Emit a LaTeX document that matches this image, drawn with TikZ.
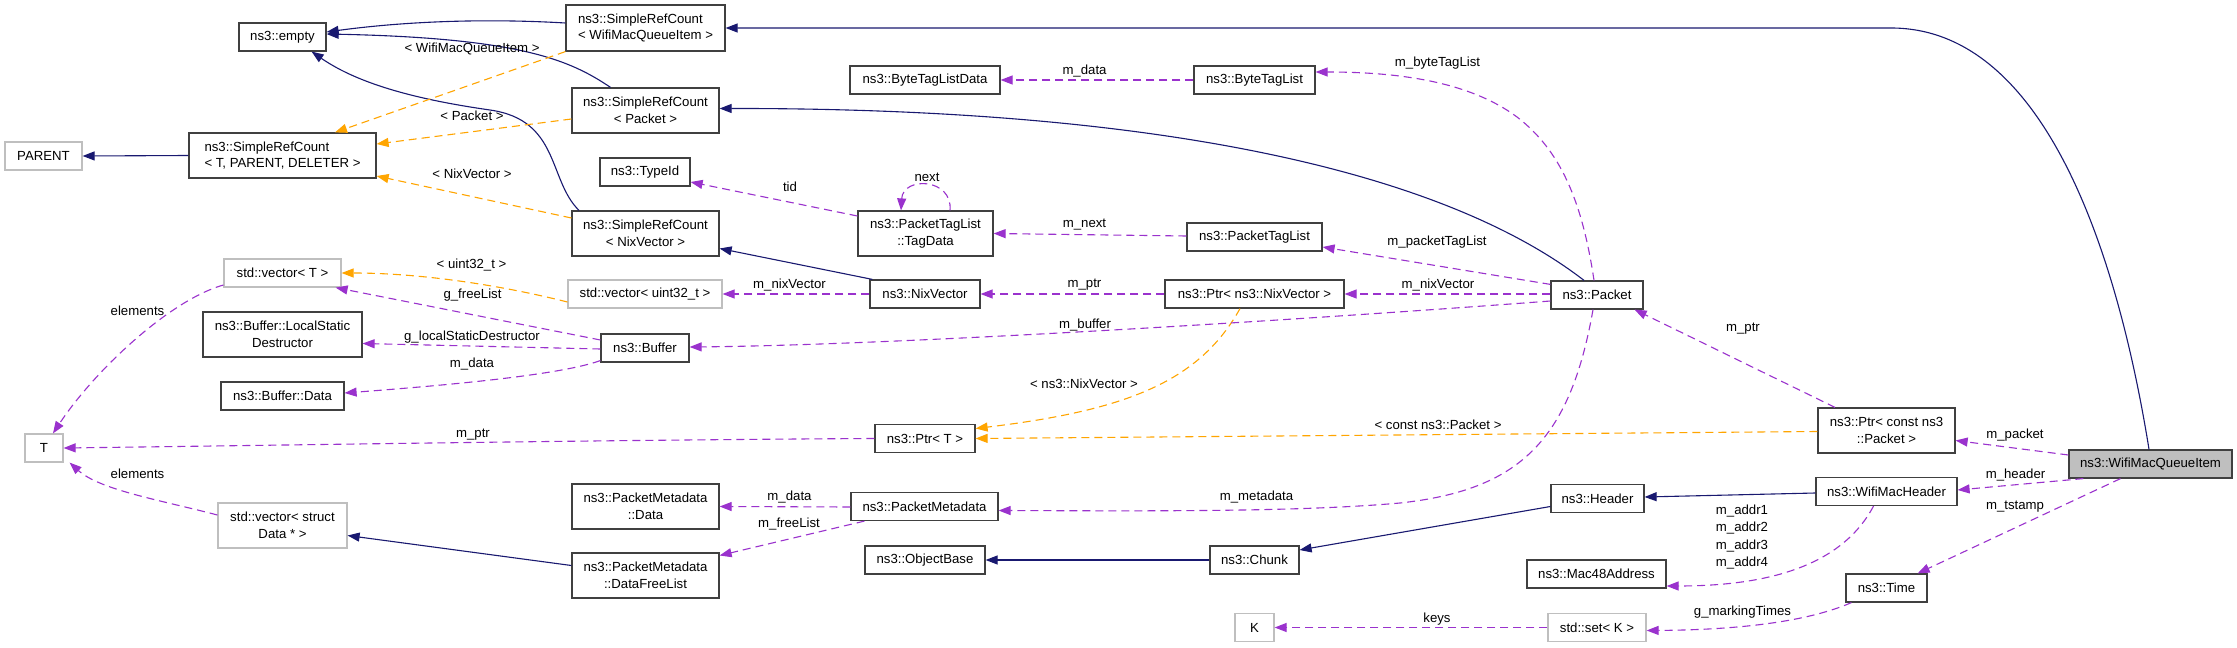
\documentclass[tikz,border=0pt]{standalone}
\usepackage{fontspec}
\setmainfont{Liberation Sans}
\usetikzlibrary{arrows.meta,calc}
\definecolor{inh}{HTML}{191970}
\definecolor{usec}{HTML}{9A32CD}
\definecolor{tplc}{HTML}{FFA500}
\definecolor{nodegray}{HTML}{BFBFBF}
\definecolor{bordr}{HTML}{404040}
\newlength\twolwa
\newlength\twolwb
\newcommand\twol[2]{\settowidth\twolwa{#1}\settowidth\twolwb{#2}\ifdim\twolwa<\twolwb\makebox[\twolwb][l]{#1}\else #1\fi\\#2}
\begin{document}
\begin{tikzpicture}[x=1bp,y=-1bp,
  every node/.style={font=\fontsize{13.2bp}{16.6bp}\selectfont, inner sep=0pt},
  sz/.style 2 args={minimum width=#1bp, minimum height=#2bp},
  cls/.style={draw=bordr, fill=white, line width=1.2bp, align=center},
  ext/.style={draw=nodegray, fill=white, line width=1.2bp, align=center},
  mainc/.style={draw=bordr, fill=nodegray, line width=1.2bp, align=center},
  tip/.style={-{Triangle[length=12bp,width=9bp]}},
  inhedge/.style={draw=inh, line width=1.1bp, tip},
  useedge/.style={draw=usec, line width=1.1bp, dash pattern=on 8bp off 5bp, tip},
  tpledge/.style={draw=tplc, line width=1.1bp, dash pattern=on 8bp off 5bp, tip},
  lbl/.style={align=center}]
\useasboundingbox[fill=white] (0,0) rectangle (2237,648);

% ---------- nodes ----------
\node[cls, sz={87}{28}] (empty) at (282.5,37) {ns3::empty};
\node[cls, sz={159}{46}] (srcW) at (645.5,28) {\twol{ns3::SimpleRefCount}{< WifiMacQueueItem >}};
\node[cls, sz={147}{45}] (srcP) at (645.5,110.5) {\twol{ns3::SimpleRefCount}{< Packet >}};
\node[ext, sz={77}{28}] (parent) at (43.5,156) {PARENT};
\node[cls, sz={187}{45}] (srcT) at (282.5,155.5) {\twol{ns3::SimpleRefCount}{< T, PARENT, DELETER >}};
\node[cls, sz={90}{28}] (typeid) at (645,172) {ns3::TypeId};
\node[cls, sz={147}{45}] (srcN) at (645.5,233.5) {\twol{ns3::SimpleRefCount}{< NixVector >}};
\node[ext, sz={117}{28}] (vecT) at (282.5,273) {std::vector< T >};
\node[ext, sz={154}{28}] (vecU) at (645,294) {std::vector< uint32\_t >};
\node[cls, sz={159}{45}] (lsd) at (282.5,334.5) {\twol{ns3::Buffer::LocalStatic}{Destructor}};
\node[cls, sz={88}{28}] (buffer) at (645,348) {ns3::Buffer};
\node[cls, sz={123}{28}] (bdata) at (282.5,396) {ns3::Buffer::Data};
\node[ext, sz={38}{28}] (T) at (44,448) {T};
\node[ext, sz={129}{45}] (vecD) at (282.5,525.5) {\twol{std::vector< struct}{Data * >}};
\node[cls, sz={147}{45}] (pmdata) at (645.5,506.5) {\twol{ns3::PacketMetadata}{::Data}};
\node[cls, sz={147}{45}] (pmfree) at (645.5,575.5) {\twol{ns3::PacketMetadata}{::DataFreeList}};
\node[cls, sz={150}{28}] (btld) at (925,80) {ns3::ByteTagListData};
\node[cls, sz={121}{28}] (btl) at (1254.5,80) {ns3::ByteTagList};
\node[cls, sz={135}{45}] (tagdata) at (925.5,233.5) {\twol{ns3::PacketTagList}{::TagData}};
\node[cls, sz={135}{28}] (ptl) at (1254.5,237) {ns3::PacketTagList};
\node[cls, sz={110}{28}] (nix) at (925,294) {ns3::NixVector};
\node[cls, sz={179}{28}] (ptrnix) at (1254.5,294) {ns3::Ptr< ns3::NixVector >};
\node[cls, sz={100}{28}] (ptrT) at (925,438.5) {ns3::Ptr< T >};
\node[cls, sz={147}{28}] (pm) at (924.5,506.5) {ns3::PacketMetadata};
\node[cls, sz={120}{28}] (objbase) at (925,560) {ns3::ObjectBase};
\node[cls, sz={89}{28}] (chunk) at (1254.5,560) {ns3::Chunk};
\node[ext, sz={39}{28}] (K) at (1254.5,627.5) {K};
\node[cls, sz={92}{28}] (packet) at (1597,295) {ns3::Packet};
\node[cls, sz={137}{45}] (ptrcp) at (1886.5,430.5) {\twol{ns3::Ptr< const ns3}{::Packet >}};
\node[mainc, sz={163}{28}] (wmqi) at (2150.5,464) {ns3::WifiMacQueueItem};
\node[cls, sz={93}{28}] (header) at (1597.5,498.5) {ns3::Header};
\node[cls, sz={141}{28}] (wmh) at (1886.5,491.5) {ns3::WifiMacHeader};
\node[cls, sz={139}{28}] (mac) at (1596.5,574) {ns3::Mac48Address};
\node[cls, sz={81}{28}] (time) at (1886.5,588) {ns3::Time};
\node[ext, sz={98}{28}] (setK) at (1597,627.5) {std::set< K >};

% ---------- inheritance ----------
\draw[inhedge] ($(srcW.west)+(0,-5)$) .. controls (480,18) and (400,22) .. ($(empty.east)+(0,-5)$);
\draw[inhedge] ($(srcP.north)+(-35,0)$) .. controls (570,60) and (520,38) .. ($(empty.east)+(0,-3)$);
\draw[inhedge] ($(srcN.north)+(-66.5,0)$) .. controls (548,180) and (560,120) .. (490,110) .. controls (420,100) and (360,85) .. ($(empty.south east)+(-15,0)$);
\draw[inhedge] (srcT.west) -- (parent.east);
\draw[inhedge] ($(wmqi.north)+(-1.5,0)$) .. controls (2125,300) and (2060,28) .. (1891,28) -- (srcW.east);
\draw[inhedge] ($(packet.north)+(-13,0)$) .. controls (1480,200) and (1250,108) .. ($(srcP.east)+(0,-2)$);
\draw[inhedge] ($(nix.north west)+(3,0)$) -- ($(srcN.east)+(0,15)$);
\draw[inhedge] ($(pmfree.west)+(0,-10)$) -- ($(vecD.east)+(0,10)$);
\draw[inhedge] (chunk.west) -- (objbase.east);
\draw[inhedge] ($(header.west)+(0,8)$) -- ($(chunk.east)+(0,-10)$);
\draw[inhedge] ($(wmh.west)+(0,1.5)$) -- ($(header.east)+(0,-1.5)$);

% ---------- template instances ----------
\draw[tpledge] (srcW.south west) -- ($(srcT.north)+(52.5,0)$);
\draw[tpledge] ($(srcP.west)+(0,8.5)$) -- ($(srcT.east)+(0,-11.5)$);
\draw[tpledge] ($(srcN.west)+(0,-15.5)$) -- ($(srcT.east)+(0,20.5)$);
\draw[tpledge] ($(vecU.west)+(0,8)$) .. controls (500,285) and (420,273) .. (vecT.east);
\draw[tpledge] ($(ptrnix.south)+(-14.5,0)$) .. controls (1200,380) and (1130,410) .. ($(ptrT.east)+(0,-10)$);
\draw[tpledge] ($(ptrcp.west)+(0,1)$) -- (ptrT.east);

% ---------- usage ----------
\draw[useedge] (btl.west) -- (btld.east);
\draw[useedge] ($(packet.north)+(-3,0)$) .. controls (1582,200) and (1560,150) .. (1517,117) .. controls (1470,82) and (1400,72) .. ($(btl.east)+(0,-8)$);
\draw[useedge] ($(tagdata.west)+(0,-17.5)$) -- ($(typeid.east)+(0,10)$);
\draw[useedge] ($(tagdata.north)+(24.5,0)$) .. controls (953,178) and (903,176) .. ($(tagdata.north)+(-24.5,0)$);
\draw[useedge] ($(ptl.west)+(0,-1)$) -- (tagdata.east);
\draw[useedge] ($(packet.north west)+(0,4)$) -- ($(ptl.east)+(0,10)$);
\draw[useedge] (ptrnix.west) -- (nix.east);
\draw[useedge] ($(packet.west)+(0,-1)$) -- (ptrnix.east);
\draw[useedge] (nix.west) -- (vecU.east);
\draw[useedge] ($(packet.west)+(0,6)$) .. controls (1300,320) and (900,345) .. ($(buffer.east)+(0,-1)$);
\draw[useedge] ($(buffer.west)+(0,-8)$) -- ($(vecT.south east)+(-6,0)$);
\draw[useedge] ($(buffer.west)+(0,1)$) -- ($(lsd.east)+(0,9)$);
\draw[useedge] ($(buffer.south west)+(0,-2)$) .. controls (560,375) and (450,385) .. ($(bdata.east)+(0,-3)$);
\draw[useedge] ($(vecT.west)+(0,12)$) .. controls (170,300) and (95,370) .. ($(T.north)+(9,0)$);
\draw[useedge] (ptrT.west) .. controls (600,440) and (300,445) .. (T.east);
\draw[useedge] ($(vecD.west)+(0,-10.5)$) .. controls (160,500) and (100,490) .. ($(T.south east)+(6,0)$);
\draw[useedge] ($(pm.west)+(0,0.5)$) -- (pmdata.east);
\draw[useedge] ($(pm.south west)+(14,0)$) -- ($(pmfree.east)+(0,-20)$);
\draw[useedge] ($(packet.south)+(-4,0)$) .. controls (1570,440) and (1520,490) .. (1400,503) .. controls (1300,512) and (1150,511) .. ($(pm.east)+(0,4)$);
\draw[useedge] ($(ptrcp.north)+(-51.5,0)$) -- ($(packet.south east)+(-9,0)$);
\draw[useedge] ($(wmqi.west)+(0,-9)$) -- ($(ptrcp.east)+(0,10)$);
\draw[useedge] ($(wmqi.south west)+(15,0)$) -- ($(wmh.east)+(0,-1.5)$);
\draw[useedge] ($(wmqi.south)+(-30,0)$) -- ($(time.north east)+(-10,0)$);
\draw[useedge] ($(wmh.south)+(-13,0)$) .. controls (1845,560) and (1780,586) .. ($(mac.east)+(0,12)$);
\draw[useedge] ($(time.south west)+(6,0)$) .. controls (1800,625) and (1720,630) .. ($(setK.east)+(0,3)$);
\draw[useedge] (setK.west) -- (K.east);

% ---------- labels ----------
\node[lbl] (l1) at (472,49) {< WifiMacQueueItem >};
\node[lbl] (l2) at (472,116) {< Packet >};
\node[lbl] (l3) at (472,174) {< NixVector >};
\node[lbl] (l4) at (471.5,265) {< uint32\_t >};
\node[lbl] (l5) at (472.5,295) {g\_freeList};
\node[lbl] (l6) at (472,337) {g\_localStaticDestructor};
\node[lbl] (l7) at (472,364) {m\_data};
\node[lbl] (l8) at (137.5,311) {elements};
\node[lbl] (l9) at (473,435) {m\_ptr};
\node[lbl] (l10) at (137.5,474) {elements};
\node[lbl] (l11) at (789.5,497) {m\_data};
\node[lbl] (l12) at (789,524) {m\_freeList};
\node[lbl] (l13) at (1256.5,497) {m\_metadata};
\node[lbl] (l14) at (790,187) {tid};
\node[lbl] (l15) at (927,177) {next};
\node[lbl] (l16) at (1084.5,71) {m\_data};
\node[lbl] (l17) at (1437.5,63) {m\_byteTagList};
\node[lbl] (l18) at (1084.5,225) {m\_next};
\node[lbl] (l19) at (1437,242.5) {m\_packetTagList};
\node[lbl] (l20) at (789.5,285) {m\_nixVector};
\node[lbl] (l21) at (1084.5,285) {m\_ptr};
\node[lbl] (l22) at (1438,285) {m\_nixVector};
\node[lbl] (l23) at (1085,325) {m\_buffer};
\node[lbl] (l24) at (1084,384) {< ns3::NixVector >};
\node[lbl] (l25) at (1438,425) {< const ns3::Packet >};
\node[lbl] (l26) at (1743,329) {m\_ptr};
\node[lbl] (l27) at (2015,434.7) {m\_packet};
\node[lbl] (l28) at (2015.5,474.7) {m\_header};
\node[lbl] (l29) at (2015,507) {m\_tstamp};
\node[lbl, font=\fontsize{13.2bp}{17.3bp}\selectfont] (l30) at (1742,537) {m\_addr1\\m\_addr2\\m\_addr3\\m\_addr4};
\node[lbl] (l31) at (1742.5,611.7) {g\_markingTimes};
\node[lbl] (l32) at (1437,619) {keys};
\end{tikzpicture}
\end{document}
